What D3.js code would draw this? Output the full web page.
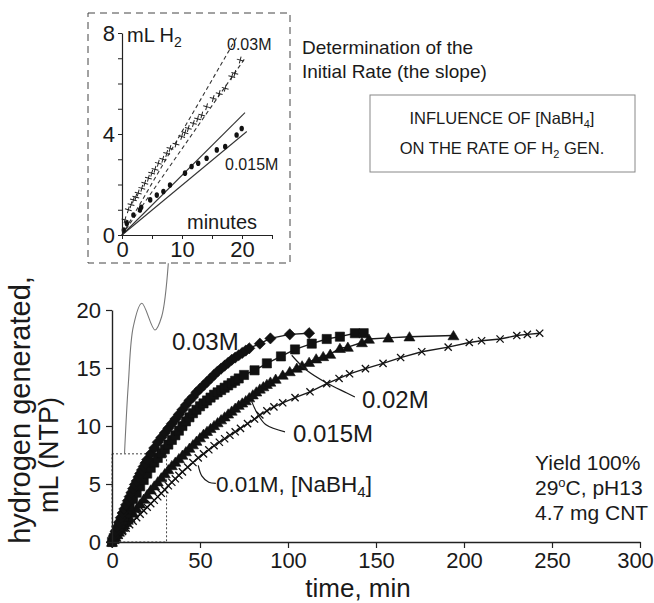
<!DOCTYPE html>
<html>
<head>
<meta charset="utf-8">
<script src="https://cdn.jsdelivr.net/npm/d3@7"></script>
<style>
body { margin: 0; background: #fff; }
text { font-family: "Liberation Sans", Arial, sans-serif; fill: #1a1a1a; }
</style>
</head>
<body>
<div id="chart"></div>
<script>
// main chart: hydrogen generated (mL) vs time (min), one series per [NaBH4]
var s003 = [[0,0],[1,0.5],[2,0.9],[3,1.3],[4,1.7],[5,2.1],[6,2.5],[7,2.85],[8,3.2],[9,3.55],[10,3.9],[11,4.25],[12,4.6],[13,4.95],[14,5.25],[15,5.6],[16,5.9],[17,6.2],[18,6.5],[19,6.8],[20,7.1],[22,7.6],[24,8.1],[26,8.6],[28,9.0],[30,9.4],[32,9.8],[34,10.2],[36,10.6],[38,11.0],[40,11.4],[42,11.8],[44,12.2],[46,12.5],[48,12.9],[50,13.2],[52,13.5],[54,13.8],[56,14.1],[58,14.4],[60,14.7],[62,14.95],[64,15.2],[66,15.45],[68,15.7],[70,15.9],[72,16.1],[74,16.3],[76,16.5],[78,16.7],[84,17.1],[90,17.55],[101,17.9],[112,18.0]];
var s002 = [[0,0],[1,0.33],[2,0.65],[3,0.97],[4,1.28],[5,1.6],[6,1.9],[7,2.2],[8,2.5],[9,2.8],[10,3.1],[12,3.7],[14,4.25],[16,4.8],[18,5.35],[20,5.9],[22,6.4],[24,6.85],[26,7.25],[28,7.65],[30,8.0],[32,8.4],[34,8.8],[36,9.2],[38,9.6],[40,10.0],[42,10.4],[44,10.75],[46,11.1],[48,11.4],[50,11.7],[52,11.95],[54,12.2],[56,12.45],[58,12.7],[60,12.9],[62,13.1],[64,13.3],[66,13.5],[68,13.7],[70,13.9],[72,14.1],[75,14.4],[81,14.8],[88,15.4],[96,16.0],[104,16.6],[113.5,17.1],[122,17.5],[129.5,17.7],[138,18.0],[143,18.0]];
var s0015 = [[0,0],[1,0.22],[2,0.44],[3,0.65],[4,0.86],[5,1.07],[6,1.28],[7,1.49],[8,1.7],[9,1.9],[10,2.1],[12,2.5],[14,2.9],[16,3.3],[18,3.7],[20,4.1],[22,4.5],[24,4.85],[26,5.2],[28,5.55],[30,5.9],[32,6.25],[34,6.6],[36,6.9],[38,7.2],[40,7.5],[42,7.8],[44,8.1],[46,8.4],[48,8.7],[50,9.0],[52,9.3],[54,9.55],[56,9.8],[58,10.05],[60,10.3],[62,10.55],[64,10.8],[66,11.05],[68,11.3],[70,11.55],[72,11.8],[74,12.0],[76,12.2],[78,12.45],[80,12.7],[82,12.95],[84,13.2],[86,13.4],[88,13.6],[90,13.8],[93,14.05],[97,14.4],[101,14.7],[105,15.0],[108,15.2],[112,15.5],[116,15.8],[120,16.0],[124,16.2],[129.5,16.7],[134,16.8],[142,17.2],[146,17.5],[157,17.6],[169,17.7],[194,17.8]];
var s001 = [[0,0],[2,0.3],[4,0.6],[6,0.9],[8,1.2],[10,1.5],[12,1.8],[14,2.1],[16,2.4],[18,2.7],[20,3.0],[22,3.3],[24,3.6],[26,3.9],[28,4.2],[30,4.5],[32,4.85],[34,5.15],[36,5.45],[38,5.75],[40,6.05],[43,6.45],[46,6.85],[49,7.25],[52,7.6],[55,7.95],[58,8.3],[61,8.6],[64,8.9],[67,9.2],[70,9.5],[73,9.8],[77,10.2],[81,10.6],[84,10.95],[88,11.3],[92,11.65],[97,12.0],[104,12.45],[112.5,12.95],[122,13.65],[129,14.1],[135,14.5],[144,14.95],[154,15.4],[164,15.9],[176,16.4],[191,16.8],[203,17.2],[210,17.35],[220.5,17.5],[230,17.8],[236,17.9],[243,18.0]];
var xTicks = [0, 50, 100, 150, 200, 250, 300];
var yTicks = [0, 5, 10, 15, 20];

// inset: initial rate, first 20 minutes
var in003 = [[0.5,0.6],[1.05,1.0],[1.5,1.2],[1.9,1.39],[2.3,1.5],[2.7,1.66],[3.3,1.85],[3.8,2.05],[4.4,2.25],[4.95,2.45],[5.5,2.6],[6.05,2.84],[6.8,3.0],[7.45,3.23],[8.0,3.43],[9.0,3.6],[9.95,3.9],[10.5,4.05],[11.05,4.22],[11.9,4.42],[12.6,4.6],[13.3,4.75],[14.1,5.08],[15.2,5.41],[16.2,5.6],[17.2,5.81],[18.3,6.27],[18.8,6.4],[19.7,6.93]];
var in0015 = [[0.3,0.2],[0.8,0.46],[1.9,0.79],[3.0,0.99],[3.2,1.1],[4.7,1.39],[5.8,1.58],[6.9,1.72],[8.0,1.98],[10.5,2.45],[11.6,2.71],[12.7,2.84],[14.1,3.04],[15.8,3.37],[17.2,3.5],[19.1,3.96],[19.95,4.22]];
var rateLines = [
  { name: "0.03M high", t: [0, 19.3], v: [0, 7.9], dash: "4,3" },
  { name: "0.03M low", t: [0, 20.5], v: [0, 7.0], dash: "4,3" },
  { name: "0.015M high", t: [0, 20.5], v: [0, 4.85], dash: null },
  { name: "0.015M low", t: [0, 20.8], v: [0, 4.1], dash: null }
];
var insetYTicks = [0, 1, 2, 3, 4, 5, 6, 7, 8];
var insetYLabels = [0, 4, 8];
var insetXTicks = [0, 5, 10, 15, 20, 25];
var insetXLabels = [0, 10, 20];

var width = 654, height = 603;

var svg = d3.select("#chart")
  .append("svg")
  .attr("width", width)
  .attr("height", height);

var x = d3.scaleLinear().domain([0, 300]).range([112, 640]);
var y = d3.scaleLinear().domain([0, 20]).range([542, 310]);

var shapes = {
  diamond: function(r) { return "M0," + (-r) + "L" + r + ",0L0," + r + "L" + (-r) + ",0Z"; },
  square: function(r) { return "M" + (-r) + "," + (-r) + "H" + r + "V" + r + "H" + (-r) + "Z"; },
  triangle: function(r) { return "M0," + (-r) + "L" + (r * 1.1) + "," + (r * 0.85) + "L" + (-r * 1.1) + "," + (r * 0.85) + "Z"; },
  cross: function(r) { return "M" + (-r) + "," + (-r) + "L" + r + "," + r + "M" + (-r) + "," + r + "L" + r + "," + (-r); },
  plus: function(r) { return "M" + (-r) + ",0H" + r + "M0," + (-r) + "V" + r; }
};

// dotted region that the inset enlarges
var zoomRegion = { t: 31, v: 7.6 };
svg.append("rect")
  .attr("x", x(0))
  .attr("y", y(zoomRegion.v))
  .attr("width", x(zoomRegion.t) - x(0))
  .attr("height", y(0) - y(zoomRegion.v))
  .attr("fill", "none")
  .attr("stroke", "#444")
  .attr("stroke-width", 1)
  .attr("stroke-dasharray", "2,2");

// callout line from inset frame down to region
var calloutPts = [[32.0,24.03],[28.2,19.42],[24.4,18.28],[16.9,20.58],[12.1,18.56],[9.3,13.68],[7.1,7.59]];
svg.append("path")
  .datum(calloutPts)
  .attr("fill", "none")
  .attr("stroke", "#777")
  .attr("stroke-width", 1.1)
  .attr("d", d3.line().curve(d3.curveCatmullRom.alpha(0.5))
    .x(function(d) { return x(d[0]); })
    .y(function(d) { return y(d[1]); }));

var series = [
  { data: s001, shape: "cross", r: 3.6, fill: "none" },
  { data: s0015, shape: "triangle", r: 5, fill: "#111" },
  { data: s002, shape: "square", r: 4.6, fill: "#111" },
  { data: s003, shape: "diamond", r: 5.6, fill: "#111" }
];

var line = d3.line()
  .x(function(d) { return x(d[0]); })
  .y(function(d) { return y(d[1]); });

series.forEach(function(s) {
  svg.append("path")
    .datum(s.data)
    .attr("fill", "none")
    .attr("stroke", "#1a1a1a")
    .attr("stroke-width", 1.4)
    .attr("d", line);
  svg.append("g")
    .selectAll("path")
    .data(s.data)
    .enter()
    .append("path")
    .attr("transform", function(d) { return "translate(" + x(d[0]) + "," + y(d[1]) + ")"; })
    .attr("d", shapes[s.shape](s.r))
    .attr("fill", s.fill)
    .attr("stroke", "#111")
    .attr("stroke-width", s.fill === "none" ? 1.3 : 0.6);
});

// axes
var xAxis = d3.axisBottom(x).tickValues(xTicks).tickSizeInner(6).tickSizeOuter(0).tickPadding(4);
var yAxis = d3.axisLeft(y).tickValues(yTicks).tickSizeInner(6).tickSizeOuter(0).tickPadding(5);

var gx = svg.append("g").attr("transform", "translate(0," + y(0) + ")").call(xAxis);
var gy = svg.append("g").attr("transform", "translate(" + x(0) + ",0)").call(yAxis);
[gx, gy].forEach(function(g) {
  g.select(".domain").attr("stroke", "#222").attr("stroke-width", 1.4);
  g.selectAll(".tick line").attr("stroke", "#222").attr("stroke-width", 1.2);
  g.selectAll(".tick text").style("font-size", "22px").style("font-family", "Liberation Sans, Arial, sans-serif").attr("fill", "#1a1a1a");
});
// last label sits at the page edge; nudge it inside
gx.selectAll(".tick text").filter(function(d) { return d === 300; }).attr("dx", -5);

svg.append("text")
  .attr("x", 358)
  .attr("y", 597)
  .attr("text-anchor", "middle")
  .style("font-size", "26px")
  .text("time, min");

svg.append("text")
  .attr("transform", "translate(30,410) rotate(-90)")
  .attr("text-anchor", "middle")
  .style("font-size", "29px")
  .text("hydrogen generated,");
svg.append("text")
  .attr("transform", "translate(58,455) rotate(-90)")
  .attr("text-anchor", "middle")
  .style("font-size", "27px")
  .text("mL (NTP)");

// series labels with leaders
var leaders = [
  [[102.1,16.1],[110.6,14.8],[122,13.7],[133.4,12.85],[138,12.5]],
  [[79.4,12.1],[82.5,11.1],[87.5,10.1],[98.3,9.5]],
  [[49,6.6],[51,5.7],[55,5.15],[59,5.05]]
];
leaders.forEach(function(pts) {
  svg.append("path")
    .datum(pts)
    .attr("fill", "none")
    .attr("stroke", "#1a1a1a")
    .attr("stroke-width", 1.2)
    .attr("d", d3.line().curve(d3.curveCatmullRom)
      .x(function(d) { return x(d[0]); })
      .y(function(d) { return y(d[1]); }));
});

svg.append("text").attr("x", 172).attr("y", 350).style("font-size", "24px").text("0.03M");
svg.append("text").attr("x", 362).attr("y", 408).style("font-size", "24px").text("0.02M");
svg.append("text").attr("x", 293).attr("y", 442).style("font-size", "24px").text("0.015M");
var t01 = svg.append("text").attr("x", 216).attr("y", 492).style("font-size", "22.5px");
t01.append("tspan").text("0.01M, [NaBH");
t01.append("tspan").attr("dy", 5).style("font-size", "15px").text("4");
t01.append("tspan").attr("dy", -5).text("]");

var cond = svg.append("g").style("font-size", "21px");
cond.append("text").attr("x", 535).attr("y", 470).text("Yield 100%");
var c2 = cond.append("text").attr("x", 535).attr("y", 495);
c2.append("tspan").text("29");
c2.append("tspan").attr("dy", -8).style("font-size", "13px").text("o");
c2.append("tspan").attr("dy", 8).text("C, pH13");
cond.append("text").attr("x", 535).attr("y", 520).text("4.7 mg CNT");

// boxed title
svg.append("rect")
  .attr("x", 370).attr("y", 95).attr("width", 265).attr("height", 77)
  .attr("fill", "none").attr("stroke", "#888").attr("stroke-width", 1);
var b1 = svg.append("text").attr("x", 502).attr("y", 124).attr("text-anchor", "middle").style("font-size", "16.5px");
b1.append("tspan").text("INFLUENCE OF [NaBH");
b1.append("tspan").attr("dy", 4).style("font-size", "11px").text("4");
b1.append("tspan").attr("dy", -4).text("]");
var b2 = svg.append("text").attr("x", 502).attr("y", 154).attr("text-anchor", "middle").style("font-size", "16.5px");
b2.append("tspan").text("ON THE RATE OF H");
b2.append("tspan").attr("dy", 4).style("font-size", "11px").text("2");
b2.append("tspan").attr("dy", -4).text(" GEN.");

svg.append("text").attr("x", 302).attr("y", 54).style("font-size", "19px").text("Determination of the");
svg.append("text").attr("x", 302).attr("y", 78).style("font-size", "19px").text("Initial Rate (the slope)");

// inset
var ix = d3.scaleLinear().domain([0, 25]).range([122, 272]);
var iy = d3.scaleLinear().domain([0, 8]).range([235, 33]);

svg.append("rect")
  .attr("x", 88).attr("y", 13).attr("width", 202).attr("height", 250)
  .attr("fill", "#fff").attr("stroke", "#444").attr("stroke-width", 1)
  .attr("stroke-dasharray", "7,5");

var iline = d3.line()
  .x(function(d) { return ix(d[0]); })
  .y(function(d) { return iy(d[1]); });

rateLines.forEach(function(l) {
  svg.append("path")
    .datum(d3.zip(l.t, l.v))
    .attr("fill", "none")
    .attr("stroke", "#333")
    .attr("stroke-width", 1.1)
    .attr("stroke-dasharray", l.dash)
    .attr("d", iline);
});

svg.append("g").selectAll("path")
  .data(in003).enter().append("path")
  .attr("transform", function(d) { return "translate(" + ix(d[0]) + "," + iy(d[1]) + ") rotate(15)"; })
  .attr("d", shapes.plus(3.5))
  .attr("fill", "none").attr("stroke", "#222").attr("stroke-width", 1);

svg.append("g").selectAll("ellipse")
  .data(in0015).enter().append("ellipse")
  .attr("cx", function(d) { return ix(d[0]); })
  .attr("cy", function(d) { return iy(d[1]); })
  .attr("rx", 2.2).attr("ry", 2.8)
  .attr("fill", "#111");

var igx = svg.append("g").attr("transform", "translate(0," + iy(0) + ")")
  .call(d3.axisBottom(ix).tickValues(insetXTicks).tickSizeInner(4).tickSizeOuter(0).tickPadding(2)
    .tickFormat(function(d) { return insetXLabels.indexOf(d) >= 0 ? d : ""; }));
var igy = svg.append("g").attr("transform", "translate(" + ix(0) + ",0)")
  .call(d3.axisLeft(iy).tickValues(insetYTicks).tickSizeInner(4).tickSizeOuter(0).tickPadding(3)
    .tickFormat(function(d) { return insetYLabels.indexOf(d) >= 0 ? d : ""; }));
[igx, igy].forEach(function(g) {
  g.select(".domain").attr("stroke", "#222").attr("stroke-width", 1.2);
  g.selectAll(".tick line").attr("stroke", "#222");
  g.selectAll(".tick text").style("font-size", "22px").style("font-family", "Liberation Sans, Arial, sans-serif").attr("fill", "#1a1a1a");
});

var mh = svg.append("text").attr("x", 127).attr("y", 42).style("font-size", "20px");
mh.append("tspan").text("mL H");
mh.append("tspan").attr("dy", 5).style("font-size", "14px").text("2");
svg.append("text").attr("x", 227).attr("y", 50).style("font-size", "16px").text("0.03M");
svg.append("text").attr("x", 225).attr("y", 170).style("font-size", "16px").text("0.015M");
svg.append("text").attr("x", 187).attr("y", 229).style("font-size", "20px").text("minutes");
</script>
</body>
</html>
